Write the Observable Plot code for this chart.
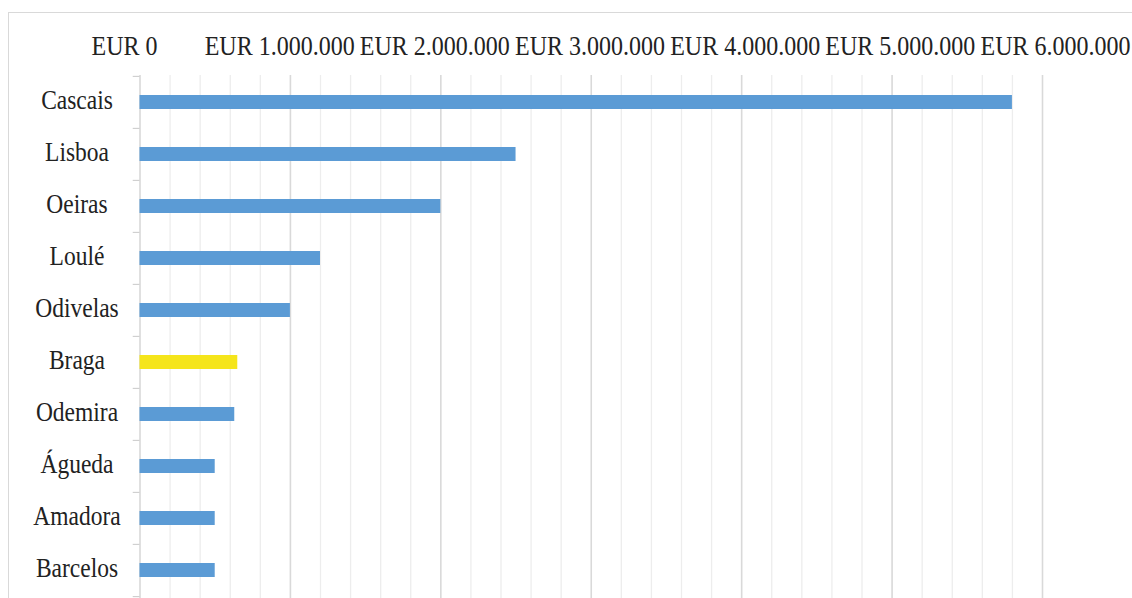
<!DOCTYPE html>
<html><head><meta charset="utf-8">
<script src="https://cdn.jsdelivr.net/npm/d3@7"></script>
<script src="https://cdn.jsdelivr.net/npm/@observablehq/plot@0.6"></script>
<style>
html,body{margin:0;padding:0;background:#fff;overflow:hidden;}
#wrap{position:relative;width:1132px;height:598px;overflow:hidden;background:#fff;}
#frame{position:absolute;left:8px;top:12px;width:1300px;height:800px;border-left:1px solid #d9d9d9;border-top:1px solid #d9d9d9;}
#wrap svg{position:absolute;left:0;top:0;background:transparent;}
#wrap svg text, #wrap svg tspan{font-family:'Liberation Serif' !important;}
</style></head><body><div id="wrap"><div id="frame"></div></div>
<script>
const municipalities = ["Cascais","Lisboa","Oeiras","Loulé","Odivelas","Braga","Odemira","Águeda","Amadora","Barcelos"];
const amounts = [5800000,2500000,2000000,1200000,1000000,650000,630000,500000,500000,500000];
const highlighted = "Braga";
const majorTicks = [0,1000000,2000000,3000000,4000000,5000000,6000000];
const tickLabels = ["EUR 0","EUR 1.000.000","EUR 2.000.000","EUR 3.000.000","EUR 4.000.000","EUR 5.000.000","EUR 6.000.000"];
const minorTicks = [200000,400000,600000,800000,1200000,1400000,1600000,1800000,2200000,2400000,2600000,2800000,3200000,3400000,3600000,3800000,4200000,4400000,4600000,4800000,5200000,5400000,5600000,5800000];

const blue = "#5b9bd5", yellow = "#f5e51b";
const data = municipalities.map((name, i) => ({name, value: amounts[i]}));
const font = "Liberation Serif";
const css = "background: transparent; font-family: 'Liberation Serif'; font-size: 23px; color: #222;";

const H = 598, mTop = 75, mBottom = 0;
const step = (H - mTop - mBottom) / municipalities.length;

const main = Plot.plot({
  width: 1132, height: H,
  marginTop: mTop, marginBottom: mBottom, marginLeft: 139.5, marginRight: 90,
  style: css,
  x: {domain: [0, 6000000], axis: null},
  y: {domain: municipalities, paddingInner: 0.73, paddingOuter: 0.365, axis: null, label: null},
  color: {type: "identity"},
  marks: [
    Plot.ruleX(minorTicks, {stroke: "#ededed", strokeWidth: 1.3}),
    Plot.ruleX(majorTicks, {stroke: "#d9d9d9", strokeWidth: 1.6}),
    Plot.ruleY(municipalities, {y: d => d, x1: -45000, x2: 0, stroke: "#c8c8c8", dy: -step / 2}),
    Plot.ruleY(municipalities.slice(-1), {y: d => d, x1: -45000, x2: 0, stroke: "#c8c8c8", dy: step / 2}),
    Plot.barX(data, {y: "name", x: "value", fill: d => d.name === highlighted ? yellow : blue}),
    Plot.axisY({tickSize: 0, tickPadding: 63, textAnchor: "middle", fontSize: 23.5, fontFamily: font, fill: "#222", dy: -2, label: null})
  ]
});

const header = Plot.plot({
  width: 1132, height: 75,
  marginTop: 54, marginBottom: 0, marginLeft: 124, marginRight: 77,
  style: css,
  x: {domain: [0, 6000000], label: null},
  marks: [
    Plot.axisX(majorTicks, {anchor: "top", tickSize: 0, tickPadding: 0, fontSize: 24, fontFamily: font, fill: "#222", label: null,
      tickFormat: d => tickLabels[majorTicks.indexOf(d)]})
  ]
});

const wrap = document.getElementById("wrap");
wrap.appendChild(main);
wrap.appendChild(header);
d3.selectAll("#wrap svg text").each(function() {
  const t = this.getAttribute("transform");
  const y = +(this.getAttribute("y") || 0);
  if (t && /translate/.test(t) && !y) this.setAttribute("transform", t + " scale(1,1.18)");
}).style("font-family", "'Liberation Serif'");
</script></body></html>
